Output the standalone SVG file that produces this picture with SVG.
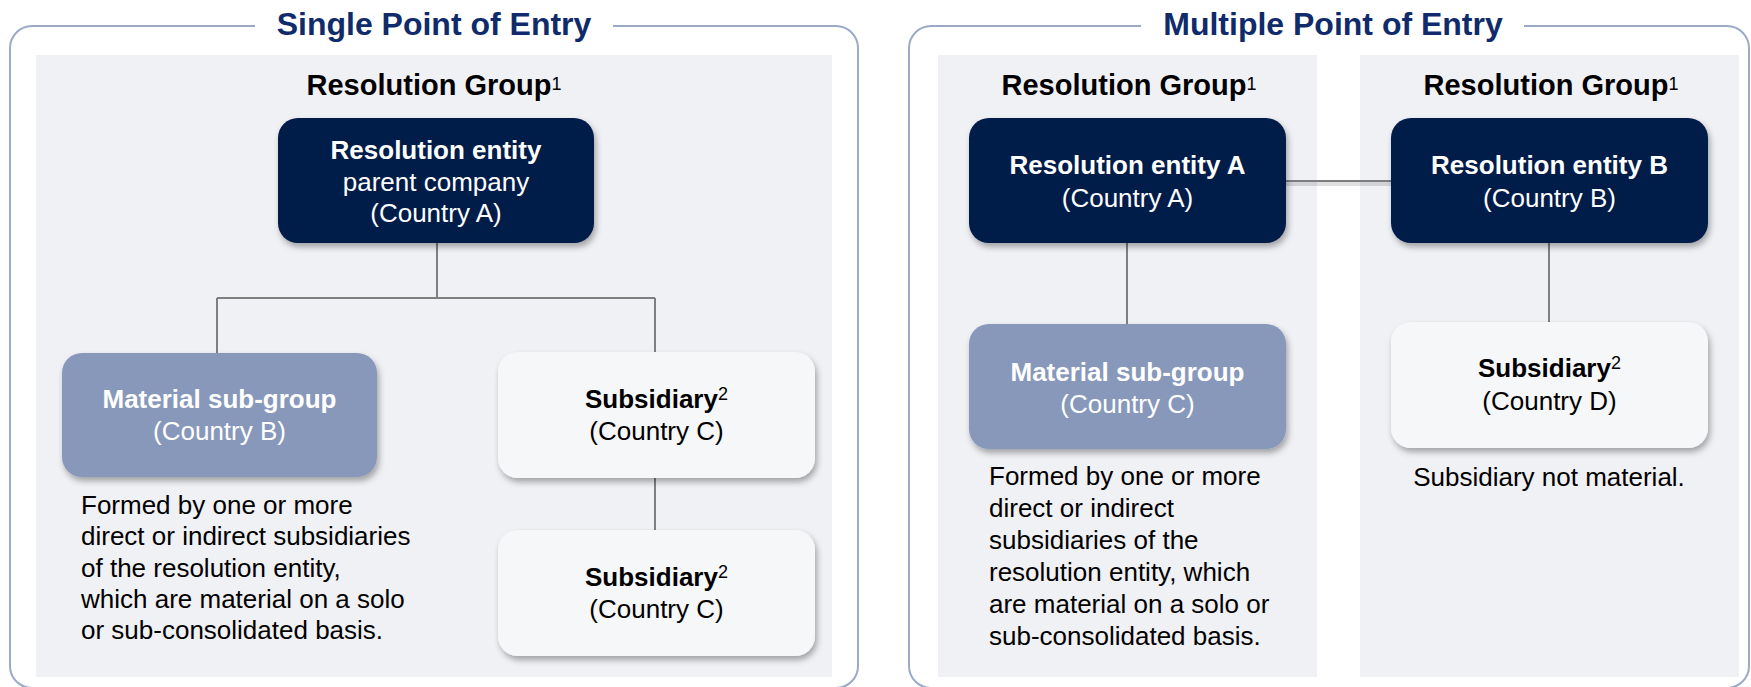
<svg xmlns="http://www.w3.org/2000/svg" width="1751" height="687" viewBox="0 0 1751 687">
<defs>
<filter id="sh" x="-10%" y="-10%" width="125%" height="135%">
<feDropShadow dx="2" dy="4" stdDeviation="3" flood-color="#000" flood-opacity="0.33"/>
</filter>
<style>
text{font-family:"Liberation Sans",Arial,sans-serif}
.frame{fill:#fff;stroke:#9DAAC7;stroke-width:2}
.panel{fill:#F0F1F5}
.title{font-size:32px;font-weight:bold;fill:#102B6B;text-anchor:middle}
.head{font-size:29px;font-weight:bold;fill:#000;text-anchor:middle}
.sup{font-size:18px;font-weight:normal}
.nsup{font-size:18px;font-weight:normal}
.navy{fill:#011B48;filter:url(#sh)}
.mat{fill:#8898BA;filter:url(#sh)}
.sub{fill:#F6F7F9;filter:url(#sh)}
.nt{font-size:26px;text-anchor:middle}
.w{fill:#fff}
.k{fill:#000}
.b{font-weight:bold}
.body{font-size:26px;fill:#000}
.conn{stroke:#7F7F7F;stroke-width:2;fill:none}
</style>
</defs>

<!-- Frames and panels -->
<g id="frame-single">
<rect class="frame" x="10" y="26" width="848" height="662" rx="22"/>
<rect x="255" y="12" width="358" height="30" fill="#fff"/>
<text class="title" x="434" y="35">Single Point of Entry</text>
<rect class="panel" x="36" y="55" width="796" height="622"/>
<text class="head" x="434" y="95">Resolution Group<tspan class="sup" dy="-5.5">1</tspan></text>
</g>

<g id="frame-multiple">
<rect class="frame" x="909" y="26" width="840" height="662" rx="22"/>
<rect x="1141" y="12" width="383" height="30" fill="#fff"/>
<text class="title" x="1333" y="35">Multiple Point of Entry</text>
<rect class="panel" x="938" y="55" width="379" height="622"/>
<rect class="panel" x="1360" y="55" width="379" height="622"/>
<text class="head" x="1129" y="95">Resolution Group<tspan class="sup" dy="-5.5">1</tspan></text>
<text class="head" x="1551" y="95">Resolution Group<tspan class="sup" dy="-5.5">1</tspan></text>
</g>

<!-- Connectors -->
<g id="connectors">
<path class="conn" d="M437 243V298M217 298H655M217 298V353M655 298V352M655 478V530"/>
<path class="conn" d="M1127 243V324M1549 243V322"/>
<path d="M1286 184H1391" stroke="#000" stroke-opacity="0.12" stroke-width="4" fill="none"/>
<path class="conn" d="M1286 181H1391"/>
</g>

<!-- Single point of entry nodes -->
<g id="node-resolution-entity">
<rect class="navy" x="278" y="118" width="316" height="125" rx="20"/>
<text class="nt w b" x="436" y="159">Resolution entity</text>
<text class="nt w" x="436" y="191">parent company</text>
<text class="nt w" x="436" y="222">(Country A)</text>
</g>

<g id="node-material-b">
<rect class="mat" x="62" y="353" width="315" height="124" rx="20"/>
<text class="nt w b" x="219.5" y="408">Material sub-group</text>
<text class="nt w" x="219.5" y="440">(Country B)</text>
</g>

<g id="node-subsidiary-c1">
<rect class="sub" x="498" y="352" width="317" height="126" rx="20"/>
<text class="nt k b" x="656.5" y="408">Subsidiary<tspan class="nsup" dy="-8">2</tspan></text>
<text class="nt k" x="656.5" y="440">(Country C)</text>
</g>

<g id="node-subsidiary-c2">
<rect class="sub" x="498" y="530" width="317" height="126" rx="20"/>
<text class="nt k b" x="656.5" y="586">Subsidiary<tspan class="nsup" dy="-8">2</tspan></text>
<text class="nt k" x="656.5" y="618">(Country C)</text>
</g>

<g id="note-single">
<text class="body" x="81" y="514">Formed by one or more</text>
<text class="body" x="81" y="545">direct or indirect subsidiaries</text>
<text class="body" x="81" y="577">of the resolution entity,</text>
<text class="body" x="81" y="608">which are material on a solo</text>
<text class="body" x="81" y="639">or sub-consolidated basis.</text>
</g>

<!-- Multiple point of entry nodes -->
<g id="node-resolution-entity-a">
<rect class="navy" x="969" y="118" width="317" height="125" rx="20"/>
<text class="nt w b" x="1127.5" y="174">Resolution entity A</text>
<text class="nt w" x="1127.5" y="207">(Country A)</text>
</g>

<g id="node-resolution-entity-b">
<rect class="navy" x="1391" y="118" width="317" height="125" rx="20"/>
<text class="nt w b" x="1549.5" y="174">Resolution entity B</text>
<text class="nt w" x="1549.5" y="207">(Country B)</text>
</g>

<g id="node-material-c">
<rect class="mat" x="969" y="324" width="317" height="125" rx="20"/>
<text class="nt w b" x="1127.5" y="381">Material sub-group</text>
<text class="nt w" x="1127.5" y="413">(Country C)</text>
</g>

<g id="node-subsidiary-d">
<rect class="sub" x="1391" y="322" width="317" height="126" rx="20"/>
<text class="nt k b" x="1549.5" y="377">Subsidiary<tspan class="nsup" dy="-8">2</tspan></text>
<text class="nt k" x="1549.5" y="410">(Country D)</text>
</g>

<g id="note-multiple-a">
<text class="body" x="989" y="485">Formed by one or more</text>
<text class="body" x="989" y="517">direct or indirect</text>
<text class="body" x="989" y="549">subsidiaries of the</text>
<text class="body" x="989" y="581">resolution entity, which</text>
<text class="body" x="989" y="613">are material on a solo or</text>
<text class="body" x="989" y="645">sub-consolidated basis.</text>
</g>

<g id="note-multiple-b">
<text class="body" x="1549" y="486" text-anchor="middle">Subsidiary not material.</text>
</g>
</svg>
